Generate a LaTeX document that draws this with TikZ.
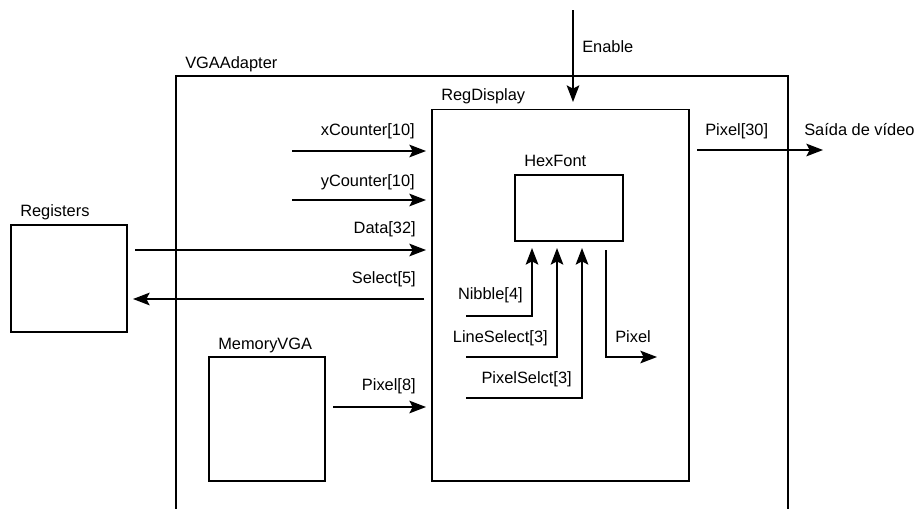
\documentclass[tikz,border=0pt]{standalone}
\usepackage{fontspec}
\setmainfont{Liberation Sans}
\usetikzlibrary{arrows.meta,fit}
\begin{document}
\begin{tikzpicture}[x=0.75pt,y=-0.75pt,
  box/.style={draw, line width=1pt, inner sep=0pt},
  sig/.style={line width=1pt, -{Stealth[length=12.5pt,width=9.5pt,inset=2.5pt]}},
  lbl/.style={inner sep=0pt, font=\fontsize{12.3}{14}\selectfont},
]
\clip (0,0) rectangle (916,508);

% blocks
\node[box, fit={(176,76) (788,530)}] (vga) {};
\node[box, fit={(432,109.5) (689,481)}] (rd) {};
\node[box, fit={(515,175) (623,241)}] (hf) {};
\node[box, fit={(11,225) (127,332)}] (reg) {};
\node[box, fit={(209,357) (325,481)}] (mem) {};

% block titles
\node[lbl, anchor=base west] (vgaT) at (185,68) {VGAAdapter};
\node[lbl, anchor=base west] (rdT) at (441,100) {RegDisplay};
\node[lbl, anchor=base west] (hfT) at (524,166.5) {HexFont};
\node[lbl, anchor=base west] (regT) at (20,216.5) {Registers};
\node[lbl, anchor=base west] (memT) at (218,349) {MemoryVGA};

% signal end points
\coordinate (enS) at (573,10);   \coordinate (enE) at (573,102);
\coordinate (xcS) at (292,151);  \coordinate (xcE) at (426,151);
\coordinate (ycS) at (292,200);  \coordinate (ycE) at (426,200);
\coordinate (daS) at (135,250);  \coordinate (daE) at (426,250);
\coordinate (seS) at (424,299);  \coordinate (seE) at (133,299);
\coordinate (p8S) at (333,407);  \coordinate (p8E) at (426,407);
\coordinate (p30S) at (697,150); \coordinate (p30E) at (823,150);
\coordinate (niS) at (466,316);  \coordinate (niE) at (532,248);
\coordinate (lsS) at (466,357);  \coordinate (lsE) at (557,248);
\coordinate (psS) at (466,398);  \coordinate (psE) at (582,248);
\coordinate (pxS) at (606,250);  \coordinate (pxE) at (657,357);

% signals
\draw[sig] (enS) -- (enE);
\draw[sig] (xcS) -- (xcE);
\draw[sig] (ycS) -- (ycE);
\draw[sig] (daS) -- (daE);
\draw[sig] (seS) -- (seE);
\draw[sig] (p8S) -- (p8E);
\draw[sig] (p30S) -- (p30E);
\draw[sig] (niS) -| (niE);
\draw[sig] (lsS) -| (lsE);
\draw[sig] (psS) -| (psE);
\draw[sig] (pxS) |- (pxE);

% signal labels
\node[lbl, anchor=base west] (enL) at (582,52) {Enable};
\node[lbl, anchor=base east] (xcL) at (415,135) {xCounter[10]};
\node[lbl, anchor=base east] (ycL) at (415,186) {yCounter[10]};
\node[lbl, anchor=base east] (daL) at (416,233) {Data[32]};
\node[lbl, anchor=base east] (seL) at (416,283) {Select[5]};
\node[lbl, anchor=base east] (p8L) at (416,390) {Pixel[8]};
\node[lbl, anchor=base west] (p30L) at (705,135) {Pixel[30]};
\node[lbl, anchor=base west] (outL) at (804,135) {Saída de vídeo};
\node[lbl, anchor=base east] (niL) at (523,299) {Nibble[4]};
\node[lbl, anchor=base east] (lsL) at (548,342) {LineSelect[3]};
\node[lbl, anchor=base east] (psL) at (572,383) {PixelSelct[3]};
\node[lbl, anchor=base west] (pxL) at (615,342) {Pixel};
\end{tikzpicture}
\end{document}
